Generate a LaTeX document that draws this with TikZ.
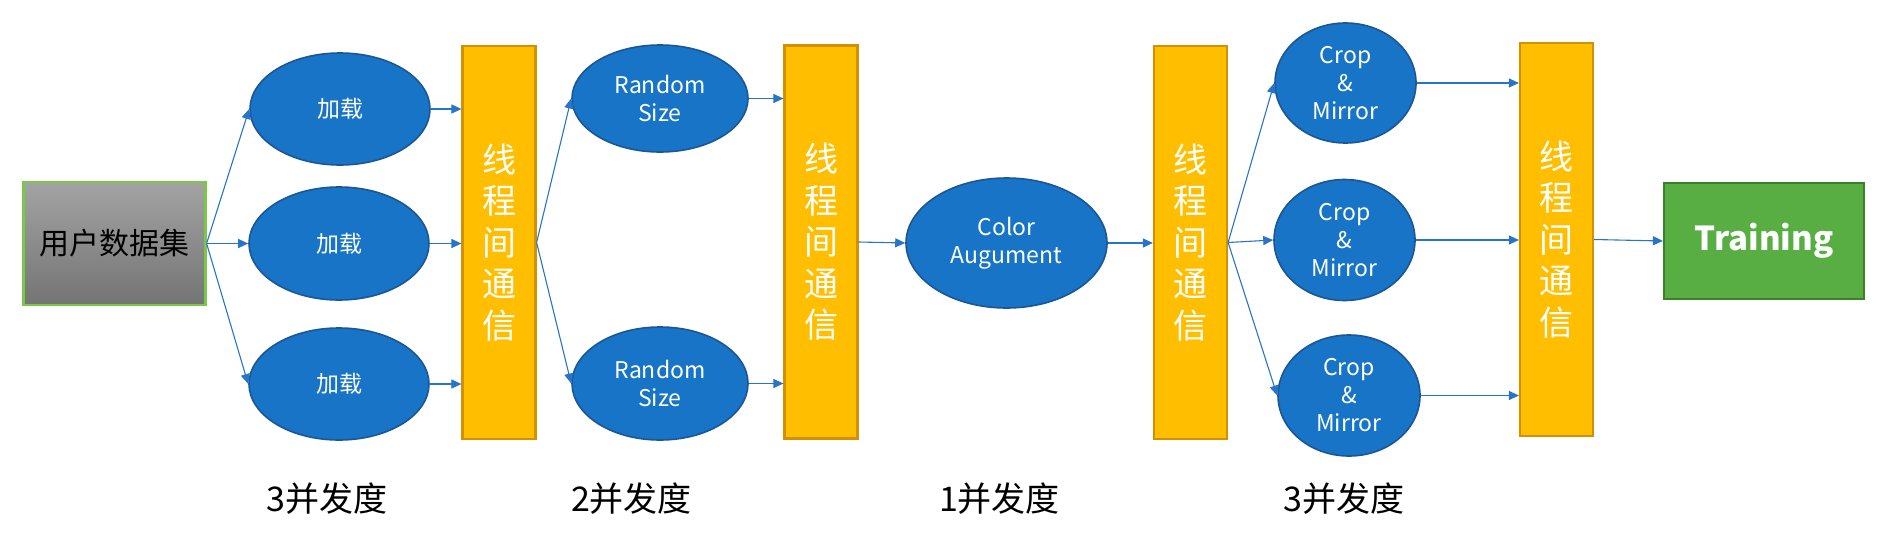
\documentclass[tikz,border=0pt]{standalone}
\usepackage{fontspec}
\setmainfont{Noto Sans CJK SC}
\usetikzlibrary{shapes.geometric,arrows.meta}
\definecolor{ellfill}{RGB}{23,116,198}
\definecolor{elldraw}{RGB}{28,86,148}
\definecolor{barfill}{RGB}{255,191,0}
\definecolor{bardraw}{RGB}{210,145,0}
\definecolor{srcgreen}{RGB}{122,200,72}
\definecolor{srctop}{RGB}{163,163,163}
\definecolor{srcbot}{RGB}{116,116,116}
\definecolor{trfill}{RGB}{88,174,66}
\definecolor{trdraw}{RGB}{60,128,44}
\definecolor{arrcol}{RGB}{40,116,200}
\tikzset{
  ell/.style={ellipse, fill=ellfill, draw=elldraw, line width=1.6pt, inner sep=0pt,
    text=white, align=center, font=\fontsize{23}{28}\selectfont},
  bar/.style={rectangle, fill=barfill, draw=bardraw, line width=2.2pt, inner sep=0pt,
    minimum width=73pt, minimum height=393pt, text=white, align=center,
    font=\fontsize{34}{41.5}\selectfont},
  arr/.style={draw=arrcol, line width=1.1pt, -{Triangle[length=10pt,width=9pt]}},
  lab/.style={inner sep=0pt, font=\fontsize{34}{40}\selectfont}
}
\begin{document}
\begin{tikzpicture}[x=1pt,y=-1pt]
\useasboundingbox (0,0) rectangle (1897,546);
% source
\node[rectangle, draw=srcgreen, line width=2.2pt, top color=srctop, bottom color=srcbot,
  minimum width=182pt, minimum height=123pt, inner sep=0pt, text=black,
  font=\fontsize{30}{34}\selectfont] (src) at (114.5,243.5) {用户数据集};
% load ellipses
\node[ell, minimum width=180pt, minimum height=112pt] (e1) at (340,109) {加载};
\node[ell, minimum width=180pt, minimum height=113pt] (e2) at (339,243.5) {加载};
\node[ell, minimum width=180pt, minimum height=112pt] (e3) at (339,384) {加载};
% bars
\node[bar] (b1) at (499,242.5) {线\\程\\间\\通\\信};
\node[bar] (b2) at (821,242) {线\\程\\间\\通\\信};
\node[bar] (b3) at (1190.5,242.5) {线\\程\\间\\通\\信};
\node[bar] (b4) at (1556.5,239.5) {线\\程\\间\\通\\信};
% random size
\node[ell, minimum width=176pt, minimum height=107pt] (r1) at (660,98.5) {Random\\Size};
\node[ell, minimum width=176pt, minimum height=113pt] (r2) at (660,383.5) {Random\\Size};
% color
\node[ell, minimum width=201pt, minimum height=130pt] (col) at (1006.5,243) {Color\\Augument};
% crop
\node[ell, minimum width=141pt, minimum height=120pt] (c1) at (1345.5,83) {Crop\\\&\\Mirror};
\node[ell, minimum width=141pt, minimum height=121pt] (c2) at (1344.5,240) {Crop\\\&\\Mirror};
\node[ell, minimum width=142pt, minimum height=121pt] (c3) at (1349,395.5) {Crop\\\&\\Mirror};
% training
\node[rectangle, fill=trfill, draw=trdraw, line width=2.2pt, minimum width=200pt,
  minimum height=116pt, inner sep=0pt, text=white,
  font=\fontsize{33}{36}\selectfont\bfseries] (tr) at (1764,241) {Training};
% labels
\node[lab] (l1) at (327,499) {3并发度};
\node[lab] (l2) at (631.5,499) {2并发度};
\node[lab] (l3) at (999.5,499) {1并发度};
\node[lab] (l4) at (1344,499) {3并发度};
% connectors
\draw[arr] (src.east) -- (e1.west);
\draw[arr] (src.east) -- (e2.west);
\draw[arr] (src.east) -- (e3.west);
\draw[arr] (e1.east) -- (e1.east -| b1.west);
\draw[arr] (e2.east) -- (e2.east -| b1.west);
\draw[arr] (e3.east) -- (e3.east -| b1.west);
\draw[arr] (b1.east) -- (r1.west);
\draw[arr] (b1.east) -- (r2.west);
\draw[arr] (r1.east) -- (r1.east -| b2.west);
\draw[arr] (r2.east) -- (r2.east -| b2.west);
\draw[arr] (b2.east) -- (col.west);
\draw[arr] (col.east) -- (col.east -| b3.west);
\draw[arr] (b3.east) -- (c1.west);
\draw[arr] (b3.east) -- (c2.west);
\draw[arr] (b3.east) -- (c3.west);
\draw[arr] (c1.east) -- (c1.east -| b4.west);
\draw[arr] (c2.east) -- (c2.east -| b4.west);
\draw[arr] (c3.east) -- (c3.east -| b4.west);
\draw[arr] (b4.east) -- (tr.west);
\end{tikzpicture}
\end{document}
